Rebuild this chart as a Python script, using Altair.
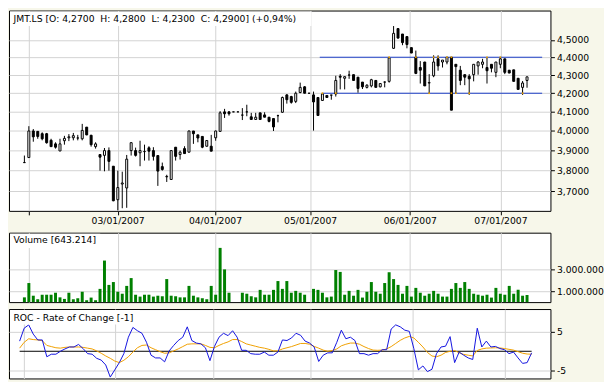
import altair as alt
import pandas as pd

# ---------------- data ----------------
opens = [3.84, 3.865, 4.00, 3.998, 3.986, 3.986, 3.952, 3.934, 3.898, 3.95,
         3.965, 3.965, 3.964, 3.96, 4.02, 3.978, 3.92, 3.88, 3.876, 3.90,
         3.822, 3.66, 3.735, 3.716, 3.90, 3.90, 3.889, 3.895, 3.914, 3.90,
         3.875, 3.82, 3.77, 3.757, 3.917, 3.88, 3.91, 3.892, 4.00, 3.98,
         3.972, 3.922, 3.922, 3.965, 3.998, 4.10, 4.10, 4.10, 4.10, 4.083,
         4.10, 4.074, 4.06, 4.095, 4.084, 4.072, 4.065, 4.08, 4.098, 4.191,
         4.182, 4.156, 4.204, 4.235, 4.20, 4.191, 4.177, 4.161, 4.188, 4.19,
         4.196, 4.293, 4.282, 4.30, 4.302, 4.288, 4.261, 4.232, 4.24, 4.27,
         4.235, 4.261, 4.265, 4.451, 4.566, 4.534, 4.519, 4.455, 4.40, 4.342,
         4.373, 4.256, 4.296, 4.391, 4.373, 4.373, 4.40, 4.36, 4.327, 4.302,
         4.293, 4.302, 4.351, 4.36, 4.342, 4.36, 4.315, 4.36, 4.391, 4.327,
         4.329, 4.282, 4.232, 4.27]
highs = [3.875, 4.025, 4.01, 4.00, 3.993, 3.99, 3.96, 3.942, 3.96, 3.975,
         3.984, 3.99, 3.98, 4.037, 4.02, 3.98, 3.942, 3.88, 3.913, 3.916,
         3.822, 3.80, 3.795, 3.878, 3.942, 3.915, 3.95, 3.93, 3.922, 3.917,
         3.875, 3.84, 3.78, 3.90, 3.917, 3.90, 3.922, 4.002, 4.00, 3.98,
         3.972, 3.951, 3.98, 4.002, 4.104, 4.116, 4.104, 4.10, 4.10, 4.12,
         4.138, 4.095, 4.095, 4.095, 4.098, 4.072, 4.065, 4.085, 4.182, 4.195,
         4.186, 4.209, 4.258, 4.239, 4.20, 4.209, 4.177, 4.20, 4.188, 4.19,
         4.296, 4.305, 4.291, 4.324, 4.302, 4.288, 4.261, 4.249, 4.279, 4.27,
         4.253, 4.265, 4.40, 4.581, 4.566, 4.534, 4.519, 4.455, 4.438, 4.378,
         4.373, 4.305, 4.411, 4.411, 4.384, 4.40, 4.40, 4.36, 4.351, 4.302,
         4.305, 4.36, 4.378, 4.391, 4.40, 4.36, 4.373, 4.40, 4.391, 4.327,
         4.329, 4.282, 4.267, 4.29]
lows = [3.84, 3.865, 3.945, 3.96, 3.952, 3.935, 3.92, 3.91, 3.898, 3.93,
        3.948, 3.952, 3.952, 3.952, 3.978, 3.92, 3.91, 3.80, 3.797, 3.80,
        3.653, 3.61, 3.62, 3.622, 3.875, 3.87, 3.822, 3.85, 3.85, 3.85,
        3.726, 3.80, 3.745, 3.757, 3.85, 3.855, 3.885, 3.892, 3.934, 3.942,
        3.912, 3.92, 3.897, 3.95, 3.998, 4.068, 4.08, 4.10, 4.10, 4.057,
        4.077, 4.06, 4.06, 4.06, 4.072, 4.045, 4.00, 4.045, 4.095, 4.144,
        4.144, 4.147, 4.20, 4.20, 4.20, 4.002, 4.081, 4.161, 4.177, 4.165,
        4.182, 4.221, 4.221, 4.279, 4.27, 4.203, 4.223, 4.226, 4.232, 4.232,
        4.232, 4.232, 4.258, 4.448, 4.51, 4.469, 4.451, 4.424, 4.305, 4.253,
        4.24, 4.20, 4.288, 4.324, 4.342, 4.36, 4.109, 4.20, 4.244, 4.244,
        4.191, 4.265, 4.302, 4.338, 4.253, 4.315, 4.288, 4.338, 4.305, 4.311,
        4.265, 4.221, 4.191, 4.23]
closes = [3.84, 4.00, 3.97, 3.972, 3.96, 3.94, 3.92, 3.917, 3.934, 3.962,
          3.97, 3.976, 3.964, 4.003, 3.98, 3.93, 3.934, 3.867, 3.90, 3.846,
          3.655, 3.718, 3.74, 3.857, 3.94, 3.876, 3.90, 3.895, 3.897, 3.871,
          3.798, 3.806, 3.772, 3.90, 3.871, 3.892, 3.885, 4.00, 3.986, 3.964,
          3.917, 3.951, 3.897, 4.00, 4.095, 4.09, 4.09, 4.10, 4.10, 4.083,
          4.10, 4.06, 4.072, 4.06, 4.072, 4.05, 4.021, 4.08, 4.177, 4.165,
          4.151, 4.20, 4.232, 4.20, 4.20, 4.153, 4.081, 4.196, 4.177, 4.19,
          4.27, 4.288, 4.291, 4.30, 4.27, 4.226, 4.235, 4.244, 4.274, 4.232,
          4.253, 4.261, 4.396, 4.538, 4.51, 4.484, 4.473, 4.424, 4.309, 4.327,
          4.24, 4.258, 4.373, 4.351, 4.384, 4.40, 4.109, 4.347, 4.27, 4.288,
          4.279, 4.36, 4.373, 4.373, 4.324, 4.338, 4.373, 4.391, 4.315, 4.311,
          4.265, 4.221, 4.256, 4.29]
volumes = [430000, 1730000, 580000, 260000, 670000, 670000, 670000, 850000, 430000, 290000,
           850000, 260000, 350000, 940000, 170000, 410000, 170000, 1200000, 3770000, 1560000,
           1820000, 940000, 760000, 1470000, 2180000, 670000, 500000, 670000, 670000, 500000,
           580000, 530000, 2090000, 580000, 530000, 430000, 430000, 1470000, 580000, 430000,
           350000, 260000, 1470000, 670000, 4920000, 2970000, 850000, 0, 0, 850000,
           760000, 530000, 430000, 1110000, 670000, 670000, 1110000, 1910000, 1200000, 1910000,
           850000, 1020000, 850000, 670000, 0, 1200000, 1110000, 850000, 430000, 500000,
           2910000, 2740000, 670000, 1020000, 580000, 1110000, 410000, 940000, 1820000, 940000,
           760000, 1730000, 2710000, 2090000, 1560000, 760000, 1470000, 500000, 1290000, 850000,
           580000, 760000, 1020000, 760000, 500000, 500000, 1200000, 1730000, 1290000, 1820000,
           1200000, 760000, 670000, 580000, 670000, 410000, 1290000, 760000, 670000, 1470000,
           760000, 1110000, 580000, 643214]
roc = [2.6, 5.9, 6.75, 4.4, 2.9, 2.9, -1.4, -0.75, -0.75, 0.0,
       0.6, 1.1, 1.1, 1.75, 0.7, -0.6, -0.75, -1.8, -2.25, -3.5,
       -6.6, -4.75, -2.9, -0.6, 3.6, 6.1, 5.25, 4.6, 2.3, -1.0,
       -1.7, -1.7, -2.7, 0.1, 1.5, 2.75, 3.6, 6.25, 2.75, 2.1,
       1.9, 0.9, -2.4, 1.25, 3.6, 4.6, 4.0, 5.25, 3.6, 0.25,
       0.25, -0.6, -0.75, -0.75, -0.2, -1.0, -1.0, -0.2, 2.9, 2.75,
       3.4, 4.6, 4.1, 2.6, 2.1, 1.1, -2.6, -1.0, -0.4, -0.4,
       2.3, 5.4, 3.2, 3.6, 2.75, -0.6, -0.6, -1.0, -0.6, -0.6,
       0.4, 0.4, 5.7, 6.75, 6.25, 5.4, 5.1, 0.7, -4.75, -3.75,
       -5.2, -4.6, -0.6, 1.1, 1.3, 3.75, -2.9, -0.2, -1.0, -1.7,
       -2.1, 5.9, 1.1, 2.6, 1.1, 1.25, 0.7, 0.4, -0.6, -0.2,
       -1.7, -3.1, -2.9, -0.4]
roc_signal = [0.8, 2.3, 3.2, 3.0, 2.9, 2.7, 1.5, 1.2, 0.9, 0.8,
              1.0, 1.1, 1.1, 1.1, 1.0, 0.8, 0.6, 0.1, -0.5, -1.2,
              -1.8, -2.5, -2.9, -2.3, -1.4, -0.2, 0.9, 1.5, 1.6, 0.9,
              0.4, -0.1, -0.5, -0.4, 0.1, 0.6, 1.2, 1.8, 1.9, 1.9,
              1.9, 1.5, 1.0, 0.9, 1.5, 2.0, 2.4, 3.0, 3.0, 2.5,
              1.9, 1.6, 1.3, 1.0, 0.8, 0.5, 0.1, 0.1, 0.6, 0.9,
              1.2, 1.6, 2.0, 2.0, 1.8, 1.25, 0.8, 0.3, 0.0, 0.2,
              0.6, 1.4, 1.8, 2.1, 2.1, 1.8, 1.2, 0.7, 0.3, 0.25,
              0.3, 0.6, 1.2, 2.0, 2.8, 3.4, 3.8, 3.4, 2.3, 1.1,
              -0.3, -1.2, -1.4, -1.0, -0.3, 0.0, 0.2, -0.4, -0.8, -1.0,
              -1.2, 0.2, 0.6, 0.8, 0.85, 0.9, 0.85, 0.7, 0.5, 0.3,
              -0.1, -0.5, -0.7, -0.75]

month_ticks = [1.0, 20.96, 42.84, 64.24, 86.65, 107.02]
month_labels = ["", "03/01/2007", "04/01/2007", "05/01/2007", "06/01/2007", "07/01/2007"]
price_ticks = [3.7, 3.8, 3.9, 4.0, 4.1, 4.2, 4.3, 4.4, 4.5]
volume_ticks = [1000000, 3000000]
volume_labels = ["1.000.000", "3.000.000"]
roc_ticks = [-5, 0, 5]

trend_levels = [4.4, 4.2]
trend_start = [66.4, 67.0]
trend_end = [116.4, 116.4]
touch_idx = [82, 88, 92, 93, 95, 96, 104, 107, 67, 70, 91, 96, 97, 100, 112]
touch_level = [4.4, 4.4, 4.4, 4.4, 4.4, 4.4, 4.4, 4.4, 4.2, 4.2, 4.2, 4.2, 4.2, 4.2, 4.2]

panel_titles = ["JMT.LS [O: 4,2700\u00a0 H: 4,2800\u00a0 L: 4,2300\u00a0 C: 4,2900] (+0,94%)",
                "Volume [643.214]",
                "ROC - Rate of Change [-1]"]

# ---------------- styling ----------------
FONT = "DejaVu Sans"
FS = 9.3
GRID = "#d2d2d2"
BG = "#f7f7ea"
W = 546
XDOM = [-2.35, 117.15]

df = pd.DataFrame({
    "idx": list(range(len(opens))),
    "open": opens, "high": highs, "low": lows, "close": closes,
    "volume": volumes, "roc": roc, "sig": roc_signal,
})
df["dir"] = ["up" if c >= o else "down" for o, c in zip(opens, closes)]

trend_df = pd.DataFrame({"level": trend_levels, "start": trend_start, "end": trend_end})
touch_df = pd.DataFrame({"idx": touch_idx, "level": touch_level})
one = pd.DataFrame({"k": [0]})


def expr_from(values, labels):
    e = "''"
    for v, lab in reversed(list(zip(values, labels))):
        e = f"abs(datum.value - {v}) < 0.01 ? '{lab}' : {e}"
    return e


xs = alt.Scale(domain=XDOM, nice=False, zero=False)
common_axis = dict(labelFont=FONT, labelFontSize=FS, labelColor="black",
                   tickColor="black", tickSize=4, domain=False, gridColor=GRID,
                   gridWidth=1, title=None, labelFlush=False, labelOverlap=False)

x_axis_price = alt.Axis(values=month_ticks, labelExpr=expr_from(month_ticks, month_labels),
                        grid=True, labelPadding=2, **common_axis)
x_axis_plain = alt.Axis(values=month_ticks, labels=False, ticks=False, grid=True,
                        domain=False, gridColor=GRID, title=None)


def label_layer(text, box_w, base_y):
    box = alt.Chart(one).mark_rect(color="white").encode(
        x=alt.value(1), x2=alt.value(box_w), y=alt.value(1), y2=alt.value(15.5))
    txt = alt.Chart(one).mark_text(align="left", baseline="alphabetic", font=FONT,
                                    fontSize=FS, color="black").encode(
        x=alt.value(4.5), y=alt.value(base_y), text=alt.value(text))
    return box, txt


# ---- price panel ----
price_y = alt.Scale(type="log", domain=[3.6077, 4.6737], nice=False, zero=False)
price_axis = alt.Axis(orient="right", values=price_ticks,
                      labelExpr="replace(format(datum.value, '.4f'), '.', ',')",
                      grid=True, labelPadding=2, **common_axis)

base = alt.Chart(df)
wick = base.mark_rule(color="black", strokeWidth=1).encode(
    x=alt.X("idx:Q", scale=xs, axis=x_axis_price),
    y=alt.Y("low:Q", scale=price_y, axis=price_axis),
    y2="high:Q")
body = base.mark_bar(size=2, stroke="black", strokeWidth=1, orient="vertical").encode(
    x=alt.X("idx:Q", scale=xs),
    y=alt.Y("open:Q", scale=price_y),
    y2="close:Q",
    fill=alt.Fill("dir:N", scale=alt.Scale(domain=["up", "down"], range=["white", "black"]),
                  legend=None))
trend = alt.Chart(trend_df).mark_rule(color="#1c3fc8", strokeWidth=1).encode(
    x=alt.X("start:Q", scale=xs), x2="end:Q", y=alt.Y("level:Q", scale=price_y))
touch = alt.Chart(touch_df).mark_square(size=3, color="#e8a000", opacity=1).encode(
    x=alt.X("idx:Q", scale=xs), y=alt.Y("level:Q", scale=price_y))
pbox, ptxt = label_layer(panel_titles[0], 305, 12)

price = alt.layer(pbox, trend, wick, body, touch, ptxt).properties(width=W, height=202)

# ---- volume panel ----
vol_axis = alt.Axis(orient="right", values=volume_ticks,
                    labelExpr=expr_from(volume_ticks, volume_labels),
                    grid=True, labelPadding=2, **common_axis)
vbars = base.mark_bar(size=3, color="#008000").encode(
    x=alt.X("idx:Q", scale=xs, axis=x_axis_plain),
    y=alt.Y("volume:Q", scale=alt.Scale(domain=[0, 6300000], nice=False), axis=vol_axis))
vbox, vtxt = label_layer(panel_titles[1], 92, 10.8)
volume = alt.layer(vbars, vbox, vtxt).properties(width=W, height=70)

# ---- ROC panel ----
roc_scale = alt.Scale(domain=[-6.95, 10.8], nice=False, zero=False)
roc_axis = alt.Axis(orient="right", values=roc_ticks, grid=True, labelPadding=2,
                    labelExpr="'' + datum.value", **common_axis)
zero = base.transform_aggregate(lo="min(idx)", hi="max(idx)").mark_rule(
    color="black", strokeWidth=1).encode(
    x=alt.X("lo:Q", scale=xs, axis=x_axis_plain), x2="hi:Q",
    y=alt.datum(0, scale=roc_scale, axis=roc_axis))
sig_line = base.mark_line(color="#f0a000", strokeWidth=1).encode(
    x=alt.X("idx:Q", scale=xs), y=alt.Y("sig:Q", scale=roc_scale))
roc_line = base.mark_line(color="#1414e0", strokeWidth=1).encode(
    x=alt.X("idx:Q", scale=xs), y=alt.Y("roc:Q", scale=roc_scale))
rbox, rtxt = label_layer(panel_titles[2], 132, 12)
rocp = alt.layer(zero, sig_line, roc_line, rbox, rtxt).properties(width=W, height=70)

chart = alt.vconcat(price, volume, rocp, spacing=5).properties(
    padding=0, background=BG
).configure_view(stroke="black", strokeWidth=1, fill="white")

chart.save("out.html", embed_options={"renderer": "svg", "actions": False})
